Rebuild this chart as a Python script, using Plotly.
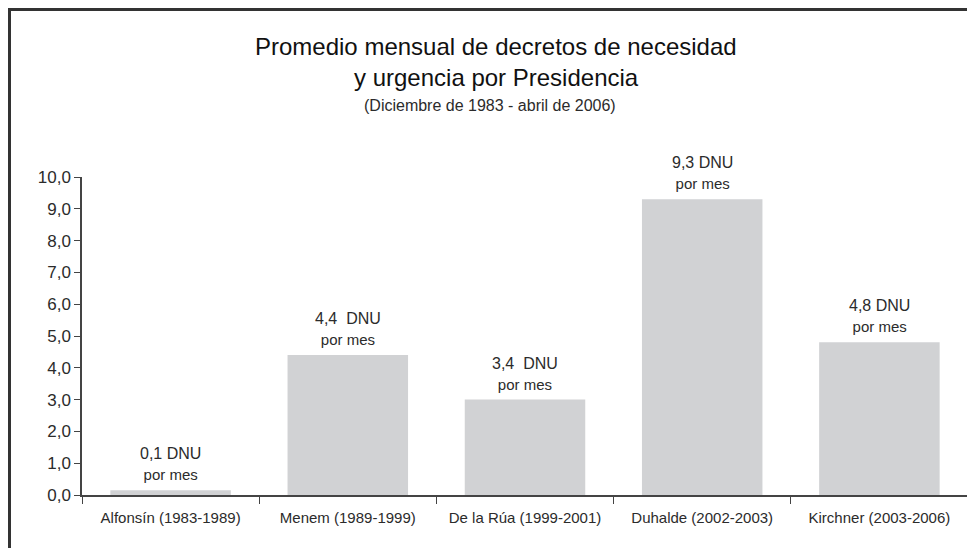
import plotly.graph_objects as go

categories = ["Alfonsín (1983-1989)", "Menem (1989-1999)", "De la Rúa (1999-2001)",
              "Duhalde (2002-2003)", "Kirchner (2003-2006)"]
values = [0.15, 4.4, 3.0, 9.3, 4.8]
value_labels = ["0,1 DNU", "4,4&nbsp;&nbsp;DNU", "3,4&nbsp;&nbsp;DNU", "9,3 DNU", "4,8 DNU"]
unit_label = "por mes"
y_ticks = [0, 1, 2, 3, 4, 5, 6, 7, 8, 9, 10]
y_tick_text = ["0,0", "1,0", "2,0", "3,0", "4,0", "5,0", "6,0", "7,0", "8,0", "9,0", "10,0"]

FONT = "Liberation Sans, Arial, sans-serif"
TXT = "#2b2b2b"
# page body has an 8px margin; figure sized so it fills the window exactly
OFF = 8
W, H = 975 - OFF, 548 - OFF
ML, MR, MT, MB = 82 - OFF, 7, 177 - OFF, 53
PW, PH = W - ML - MR, H - MT - MB

def px(x):
    return (x - OFF - ML) / PW

def py(y):
    return (H - MB - (y - OFF)) / PH

fig = go.Figure(go.Bar(
    x=categories, y=values, marker=dict(color="#d1d2d4", line=dict(width=0)),
    width=0.68, hoverinfo="skip",
))

annotations = []
for c, v, lab in zip(categories, values, value_labels):
    annotations.append(dict(
        x=c, y=v, xref="x", yref="y", yanchor="bottom", yshift=5, showarrow=False,
        text=lab + "<br><span style='font-size:15px'>" + unit_label + "</span>",
        font=dict(family=FONT, size=16, color=TXT), align="center",
    ))

annotations += [
    dict(x=px(496), y=py(46), xref="paper", yref="paper", xanchor="center", yanchor="middle",
         showarrow=False, text="Promedio mensual de decretos de necesidad",
         font=dict(family=FONT, size=24, color="#111")),
    dict(x=px(496), y=py(77), xref="paper", yref="paper", xanchor="center", yanchor="middle",
         showarrow=False, text="y urgencia por Presidencia",
         font=dict(family=FONT, size=24, color="#111")),
    dict(x=px(490), y=py(105), xref="paper", yref="paper", xanchor="center", yanchor="middle",
         showarrow=False, text="(Diciembre de 1983 - abril de 2006)",
         font=dict(family=FONT, size=16, color=TXT)),
]

shapes = [dict(
    type="path", xref="paper", yref="paper",
    path=f"M {px(9.5)},{py(570)} L {px(9.5)},{py(9.5)} L {px(1000)},{py(9.5)}",
    line=dict(color="#333333", width=3),
)]

fig.update_layout(
    width=W, height=H, margin=dict(l=ML, r=MR, t=MT, b=MB, autoexpand=False),
    paper_bgcolor="white", plot_bgcolor="white", showlegend=False,
    annotations=annotations, shapes=shapes,
    font=dict(family=FONT, color=TXT),
)
fig.update_xaxes(
    type="category", range=[-0.5, 4.5], tickson="boundaries", ticks="outside", ticklen=7,
    tickcolor="#444", showline=True, linecolor="#444", linewidth=1.5, showgrid=False,
    tickangle=0, ticklabelstandoff=8, tickfont=dict(family=FONT, size=15, color=TXT),
)
fig.update_yaxes(
    range=[0, 10], tickvals=y_ticks, ticktext=y_tick_text, ticks="outside", ticklen=6,
    tickcolor="#444", showline=True, linecolor="#444", linewidth=1.5, showgrid=False,
    zeroline=False, tickfont=dict(family=FONT, size=17, color=TXT),
)

fig.write_html("out.html")
